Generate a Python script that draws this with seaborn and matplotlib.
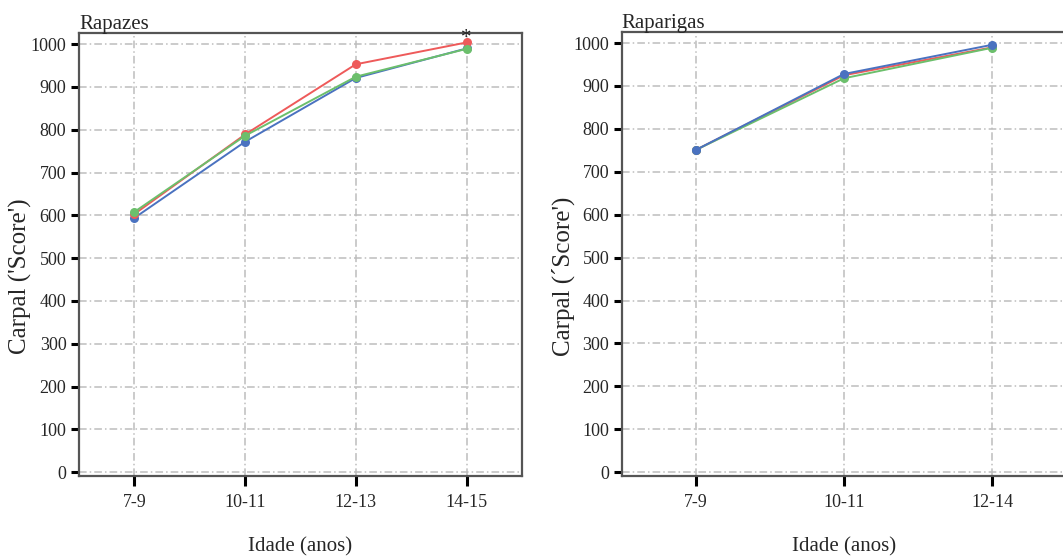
import pandas as pd
import matplotlib.pyplot as plt
import seaborn as sns

# Data
idade_rapazes = ['7-9', '10-11', '12-13', '14-15']
rapazes_vermelho = [603, 789, 953, 1004]
rapazes_azul = [594, 772, 921, 990]
rapazes_verde = [608, 786, 924, 989]

idade_raparigas = ['7-9', '10-11', '12-14']
raparigas_vermelho = [751, 925, 990]
raparigas_azul = [751, 928, 996]
raparigas_verde = [751, 918, 989]

cores = {'vermelho': '#ee5a5a', 'azul': '#4a72c0', 'verde': '#6cbf6c'}
yticks = list(range(0, 1001, 100))

sns.set_style('white')
plt.rcParams['font.family'] = ['Liberation Serif', 'DejaVu Serif']


def long_form(idades, series):
    rows = []
    for nome, valores in series:
        for idade, v in zip(idades, valores):
            rows.append({'idade': idade, 'valor': v, 'serie': nome})
    return pd.DataFrame(rows)


def style_axes(ax, title, ylabel, ncat):
    ax.set_xlim(-0.5, ncat - 0.5)
    ax.set_ylim(-9, 1026)
    ax.set_yticks(yticks)
    ax.grid(True, color='#bdbdbd', linewidth=1.1, linestyle=(0, (5, 2, 1, 2)))
    ax.set_axisbelow(True)
    for s in ax.spines.values():
        s.set_color('#555555')
        s.set_linewidth(1.6)
    ax.tick_params(axis='both', direction='out', length=6, width=2.2,
                   color='black', labelsize=13, pad=3,
                   bottom=True, left=True, top=False, right=False)
    ax.tick_params(axis='x', length=7, pad=6)
    ax.set_title(title, loc='left', fontsize=15, pad=3)
    ax.set_xlabel('Idade (anos)', fontsize=15, labelpad=19)
    ax.set_ylabel(ylabel, fontsize=18)
    ax.yaxis.set_label_coords(-0.106, 0.45)


fig = plt.figure(figsize=(10.63, 5.6), dpi=100)
ax1 = fig.add_axes([0.0743, 0.15, 0.4167, 0.791])
ax2 = fig.add_axes([0.585, 0.15, 0.418, 0.793])

df_rap = long_form(idade_rapazes, [('azul', rapazes_azul),
                                   ('vermelho', rapazes_vermelho),
                                   ('verde', rapazes_verde)])
sns.lineplot(data=df_rap, x='idade', y='valor', hue='serie', palette=cores,
             marker='o', markersize=6.5, markeredgewidth=0, linewidth=1.4,
             sort=False, legend=False, ax=ax1)
ax1.annotate('*', xy=(3, rapazes_vermelho[3]), xytext=(0, -4),
             textcoords='offset points', ha='center', va='bottom', fontsize=15)
style_axes(ax1, 'Rapazes', "Carpal ('Score')", len(idade_rapazes))

df_rpg = long_form(idade_raparigas, [('vermelho', raparigas_vermelho),
                                     ('verde', raparigas_verde),
                                     ('azul', raparigas_azul)])
sns.lineplot(data=df_rpg, x='idade', y='valor', hue='serie', palette=cores,
             marker='o', markersize=6.5, markeredgewidth=0, linewidth=1.4,
             sort=False, legend=False, ax=ax2)
style_axes(ax2, 'Raparigas', "Carpal (\u00b4Score')", len(idade_raparigas))

fig.savefig('out.png', dpi=100)
